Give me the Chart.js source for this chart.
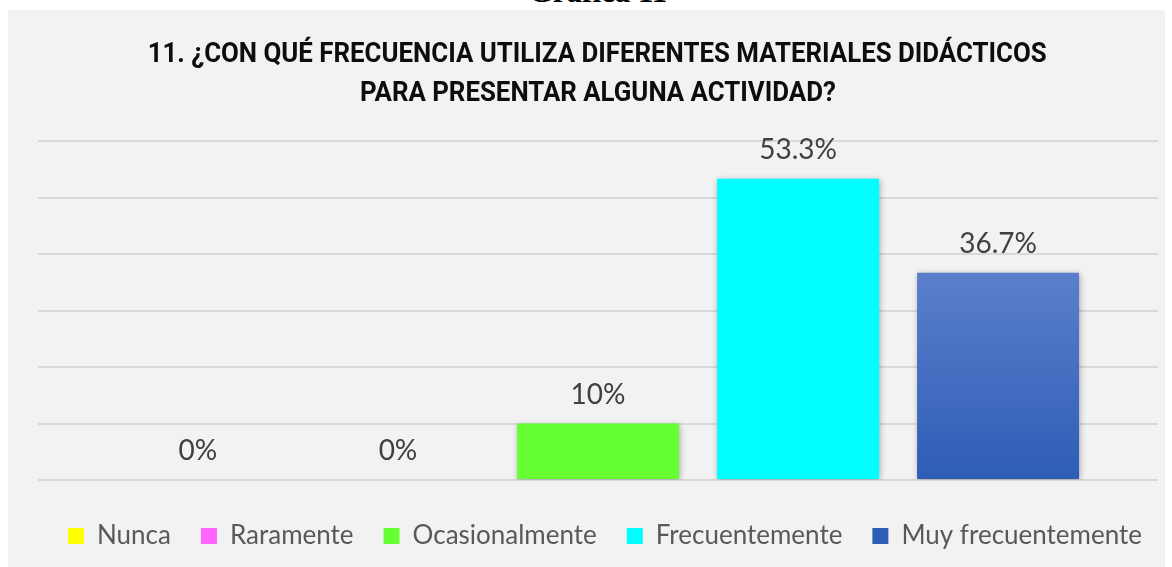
<!DOCTYPE html>
<html>
<head>
<meta charset="utf-8">
<script src="https://cdn.jsdelivr.net/npm/chart.js@4.4.1/dist/chart.umd.min.js"></script>
<style>
  body { margin: 0; background: #ffffff; width: 1172px; height: 567px; overflow: hidden; position: relative; }
  #heading { position: absolute; left: 298px; width: 600px; top: -26px; line-height: 40px; text-align: center;
             font: bold 31px "Liberation Serif", "Times New Roman", serif; color: #000; }
  #box { position: absolute; left: 8px; top: 10px; width: 1157px; height: 557px; background: #f2f2f2; }
  #title { position: absolute; left: 0px; top: 23px; width: 1179px; text-align: center;
           font: 700 28px Roboto, sans-serif; color: #0d0d0d; line-height: 39px; }
  #title span { display: inline-block; white-space: nowrap; transform-origin: 50% 50%; }
</style>
</head>
<body>
<div id="heading">Gráfica 11</div>
<div id="box">
  <canvas id="myChart" width="1157" height="557"></canvas>
  <div id="title"><span id="t1"></span><br><span id="t2"></span></div>
</div>
<script>
let categories = [""];
let titleLines = ["11. ¿CON QUÉ FRECUENCIA UTILIZA DIFERENTES MATERIALES DIDÁCTICOS", "PARA PRESENTAR ALGUNA ACTIVIDAD?"];
let seriesNames = ["Nunca", "Raramente", "Ocasionalmente", "Frecuentemente", "Muy frecuentemente"];
let seriesValues = [0, 0, 10, 53.3, 36.7];
let valueLabels = ["0%", "0%", "10%", "53.3%", "36.7%"];
let seriesColors = ["#ffff00", "#ff66ff", "#66ff33", "#00ffff", "#4472c4"];
let yTicks = [0, 10, 20, 30, 40, 50, 60];

// title is a condensed font in the original, squeeze it to the same width
let t1 = document.getElementById("t1");
let t2 = document.getElementById("t2");
t1.textContent = titleLines[0];
t2.textContent = titleLines[1];
let squeeze = 899 / t1.getBoundingClientRect().width;
t1.style.transform = "scaleX(" + squeeze + ")";
t2.style.transform = "scaleX(" + squeeze + ")";

// blue gradient like the excel fill
function blueFill(context) {
    let chart = context.chart;
    let area = chart.chartArea;
    if (!area) return "#4472c4";
    let y0 = chart.scales.y.getPixelForValue(seriesValues[4]);
    let g = chart.ctx.createLinearGradient(0, y0, 0, area.bottom);
    g.addColorStop(0, "#5b7fcc");
    g.addColorStop(1, "#2e5db6");
    return g;
}

let datasets = seriesNames.map(function (name, i) {
    return {
        label: name,
        data: [seriesValues[i]],
        backgroundColor: i == 4 ? blueFill : seriesColors[i],
        borderWidth: 0
    };
});

// labels over the bars
const barLabels = {
    id: "barLabels",
    afterDatasetsDraw(chart) {
        let ctx = chart.ctx;
        ctx.save();
        ctx.font = "28px Lato";
        ctx.fillStyle = "#404040";
        ctx.textAlign = "center";
        ctx.textBaseline = "alphabetic";
        chart.data.datasets.forEach(function (ds, i) {
            let bar = chart.getDatasetMeta(i).data[0];
            ctx.fillText(valueLabels[i], bar.x, bar.y - 20);
        });
        ctx.restore();
    }
};

// soft shadow on bars
const barShadow = {
    id: "barShadow",
    beforeDatasetsDraw(chart) {
        let ctx = chart.ctx;
        ctx.save();
        ctx.shadowColor = "rgba(0,0,0,0.3)";
        ctx.shadowBlur = 6;
        ctx.shadowOffsetX = 1;
        ctx.shadowOffsetY = 1;
    },
    afterDatasetsDraw(chart) {
        chart.ctx.restore();
    }
};

// legend in the original sits a bit right of centre
const legendNudge = {
    id: "legendNudge",
    afterLayout(chart) {
        chart.legend.left += 22;
        chart.legend.right += 22;
    }
};

new Chart("myChart", {
    type: "bar",
    data: { labels: categories, datasets: datasets },
    plugins: [barShadow, barLabels, legendNudge],
    options: {
        responsive: false,
        animation: false,
        categoryPercentage: 0.893,
        barPercentage: 0.81,
        layout: { padding: { left: 0, right: 7, top: 131, bottom: 8 } },
        scales: {
            x: {
                ticks: { display: false },
                grid: { display: false },
                border: { display: false },
                afterFit(axis) { axis.height = 13; }
            },
            y: {
                min: 0,
                max: 60,
                afterBuildTicks(axis) { axis.ticks = yTicks.map(v => ({ value: v })); },
                afterFit(axis) { axis.width = 30; },
                ticks: { display: false },
                grid: { color: "#d9d9d9", lineWidth: 2, drawTicks: false },
                border: { display: false }
            }
        },
        plugins: {
            title: { display: false },
            legend: {
                position: "bottom",
                labels: {
                    color: "#595959",
                    font: { family: "Lato", size: 26 },
                    boxWidth: 16,
                    boxHeight: 16,
                    padding: 30
                }
            },
            tooltip: { enabled: false }
        }
    }
});
</script>
</body>
</html>
